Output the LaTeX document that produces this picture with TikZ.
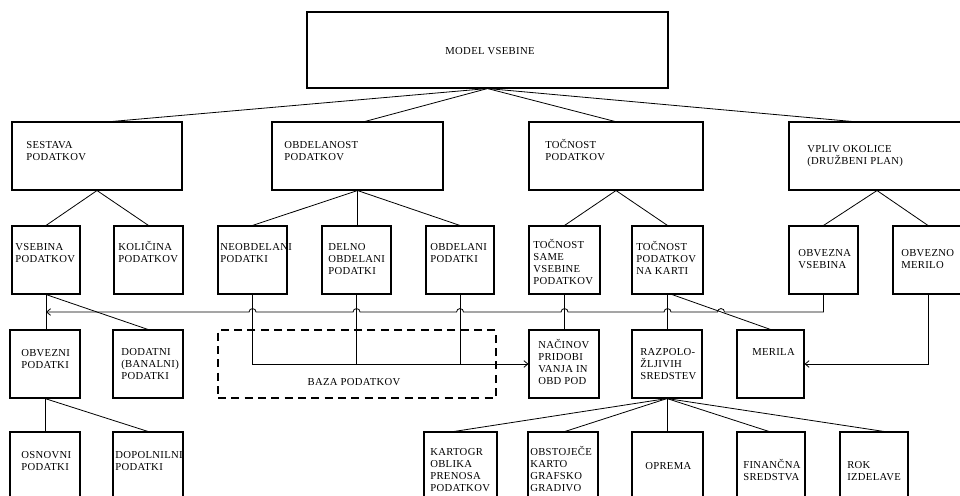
\documentclass[tikz,border=0pt]{standalone}
\usepackage{fontspec}
\setmainfont{Liberation Serif}[LetterSpace=3]
\usetikzlibrary{arrows.meta,fit}
\begin{document}
\begin{tikzpicture}[x=0.75pt,y=-0.75pt,
 box/.style={draw, line width=0.8pt, inner sep=0pt},
 dbox/.style={draw, dash pattern=on 6pt off 4pt, line width=0.8pt, inner sep=0pt},
 lbl/.style={anchor=base west, inner sep=0pt, align=left, font=\fontsize{8}{9}\selectfont},
 clbl/.style={anchor=center, inner sep=0pt, font=\fontsize{8}{9}\selectfont},
 con/.style={line width=0.6pt},
 arr/.style={con, -{Straight Barb[length=3pt,width=5pt]}}
]
\useasboundingbox (0,0) rectangle (960,496);
\clip (0,0) rectangle (960,496);
% level 1
\node[box, fit={(307,12) (668,88)}] (model) {};
% level 2
\node[box, fit={(12,122) (182,190)}] (sestava) {};
\node[box, fit={(272,122) (443,190)}] (obdelanost) {};
\node[box, fit={(529,122) (703,190)}] (tocnost) {};
\node[box, fit={(789,122) (965,190)}] (vpliv) {};
% level 3
\node[box, fit={(12,226) (80,294)}] (vsebina) {};
\node[box, fit={(114,226) (183,294)}] (kolicina) {};
\node[box, fit={(218,226) (287,294)}] (neobd) {};
\node[box, fit={(322,226) (391,294)}] (delno) {};
\node[box, fit={(426,226) (494,294)}] (obdelani) {};
\node[box, fit={(529,226) (600,294)}] (tsame) {};
\node[box, fit={(632,226) (703,294)}] (nakarti) {};
\node[box, fit={(789,226) (858,294)}] (obvezna) {};
\node[box, fit={(893,226) (963,294)}] (omerilo) {};
% level 4
\node[box, fit={(10,330) (80,398)}] (obvezni) {};
\node[box, fit={(113,330) (183,398)}] (dodatni) {};
\node[dbox, fit={(218,330) (496,398)}] (baza) {};
\node[box, fit={(529,330) (599,398)}] (nacinov) {};
\node[box, fit={(632,330) (702,398)}] (razp) {};
\node[box, fit={(737,330) (804,398)}] (merila) {};
% level 5
\node[box, fit={(10,432) (80,512)}] (osnovni) {};
\node[box, fit={(113,432) (183,512)}] (dopoln) {};
\node[box, fit={(424,432) (497,512)}] (kartogr) {};
\node[box, fit={(528,432) (598,512)}] (obstoj) {};
\node[box, fit={(632,432) (703,512)}] (oprema) {};
\node[box, fit={(737,432) (805,512)}] (financna) {};
\node[box, fit={(840,432) (908,512)}] (rok) {};

% labels (anchor = baseline of the last line; 12px line pitch)
\node[clbl] (tmodel) at (490,51) {MODEL VSEBINE};
\node[lbl] (tsestava) at (26,160) {SESTAVA\\PODATKOV};
\node[lbl] (tobdelanost) at (284,160) {OBDELANOST\\PODATKOV};
\node[lbl] (ttocnost) at (545,160) {TOČNOST\\PODATKOV};
\node[lbl] (tvpliv) at (807,164) {VPLIV OKOLICE\\(DRUŽBENI PLAN)};
\node[lbl] (tvsebina) at (15,262) {VSEBINA\\PODATKOV};
\node[lbl] (tkolicina) at (118,262) {KOLIČINA\\PODATKOV};
\node[lbl] (tneobd) at (220,262) {NEOBDELANI\\PODATKI};
\node[lbl] (tdelno) at (328,274) {DELNO\\OBDELANI\\PODATKI};
\node[lbl] (tobdelani) at (430,262) {OBDELANI\\PODATKI};
\node[lbl] (ttsame) at (533,284) {TOČNOST\\SAME\\VSEBINE\\PODATKOV};
\node[lbl] (tnakarti) at (636,274) {TOČNOST\\PODATKOV\\NA KARTI};
\node[lbl] (tobvezna) at (798,268) {OBVEZNA\\VSEBINA};
\node[lbl] (tomerilo) at (901,268) {OBVEZNO\\MERILO};
\node[lbl] (tobvezni) at (21,368) {OBVEZNI\\PODATKI};
\node[lbl] (tdodatni) at (121,379) {DODATNI\\(BANALNI)\\PODATKI};
\node[clbl] (tbaza) at (354,382) {BAZA PODATKOV};
\node[lbl] (tnacinov) at (538,384) {NAČINOV\\PRIDOBI\\VANJA IN\\OBD POD};
\node[lbl] (trazp) at (640,379) {RAZPOLO-\\ŽLJIVIH\\SREDSTEV};
\node[lbl] (tmerila) at (752,355) {MERILA};
\node[lbl] (tosnovni) at (21,470) {OSNOVNI\\PODATKI};
\node[lbl] (tdopoln) at (115,470) {DOPOLNILNI\\PODATKI};
\node[lbl] (tkartogr) at (430,491) {KARTOGR\\OBLIKA\\PRENOSA\\PODATKOV};
\node[lbl] (tobstoj) at (530,491) {OBSTOJEČE\\KARTO\\GRAFSKO\\GRADIVO};
\node[lbl] (toprema) at (645,469) {OPREMA};
\node[lbl] (tfinancna) at (743,480) {FINANČNA\\SREDSTVA};
\node[lbl] (trok) at (847,480) {ROK\\IZDELAVE};

% tree connectors
\draw[con] (model.south) -- (112,0 |- sestava.north);
\draw[con] (model.south) -- (365,0 |- obdelanost.north);
\draw[con] (model.south) -- (615,0 |- tocnost.north);
\draw[con] (model.south) -- (852,0 |- vpliv.north);
\draw[con] (sestava.south) -- (vsebina.north);
\draw[con] (sestava.south) -- (kolicina.north);
\draw[con] (obdelanost.south) -- (neobd.north);
\draw[con] (obdelanost.south) -- (obdelanost.south |- delno.north);
\draw[con] (obdelanost.south) -- (obdelani.north);
\draw[con] (tocnost.south) -- (tsame.north);
\draw[con] (tocnost.south) -- (nakarti.north);
\draw[con] (vpliv.south) -- (obvezna.north);
\draw[con] (vpliv.south) -- (omerilo.north);
\draw[con] (vsebina.south) -- (vsebina.south |- obvezni.north);
\draw[con] (vsebina.south) -- (dodatni.north);
\draw[con] (obvezni.south) -- (obvezni.south |- osnovni.north);
\draw[con] (obvezni.south) -- (dopoln.north);

% bus from OBVEZNA VSEBINA to VSEBINA PODATKOV
\coordinate (busy) at (0,312);
\draw[arr] (obvezna.south) -- (obvezna.south |- busy) -- (724.5,312)
  arc[start angle=0,end angle=180,radius=2.6pt] -- (671,312)
  arc[start angle=0,end angle=180,radius=2.6pt] -- (568,312)
  arc[start angle=0,end angle=180,radius=2.6pt] -- (463.5,312)
  arc[start angle=0,end angle=180,radius=2.6pt] -- (360,312)
  arc[start angle=0,end angle=180,radius=2.6pt] -- (256,312)
  arc[start angle=0,end angle=180,radius=2.6pt] -- (vsebina.south |- busy);

% to baza / nacinov
\draw[arr] (neobd.south) |- (nacinov.west);
\draw[con] (delno.south) -- (delno.south |- nacinov.west);
\draw[con] (obdelani.south) -- (obdelani.south |- nacinov.west);
\draw[con] (tsame.south) -- (tsame.south |- nacinov.north);
\draw[con] (nakarti.south) -- (nakarti.south |- razp.north);
\draw[con] (672,0 |- nakarti.south) -- (merila.north);
\draw[arr] (omerilo.south) |- (merila.east);

% razpolozljiva sredstva
\draw[con] (razp.south) -- (454,0 |- kartogr.north);
\draw[con] (razp.south) -- (565,0 |- obstoj.north);
\draw[con] (razp.south) -- (razp.south |- oprema.north);
\draw[con] (razp.south) -- (769,0 |- financna.north);
\draw[con] (razp.south) -- (884,0 |- rok.north);
\end{tikzpicture}
\end{document}
